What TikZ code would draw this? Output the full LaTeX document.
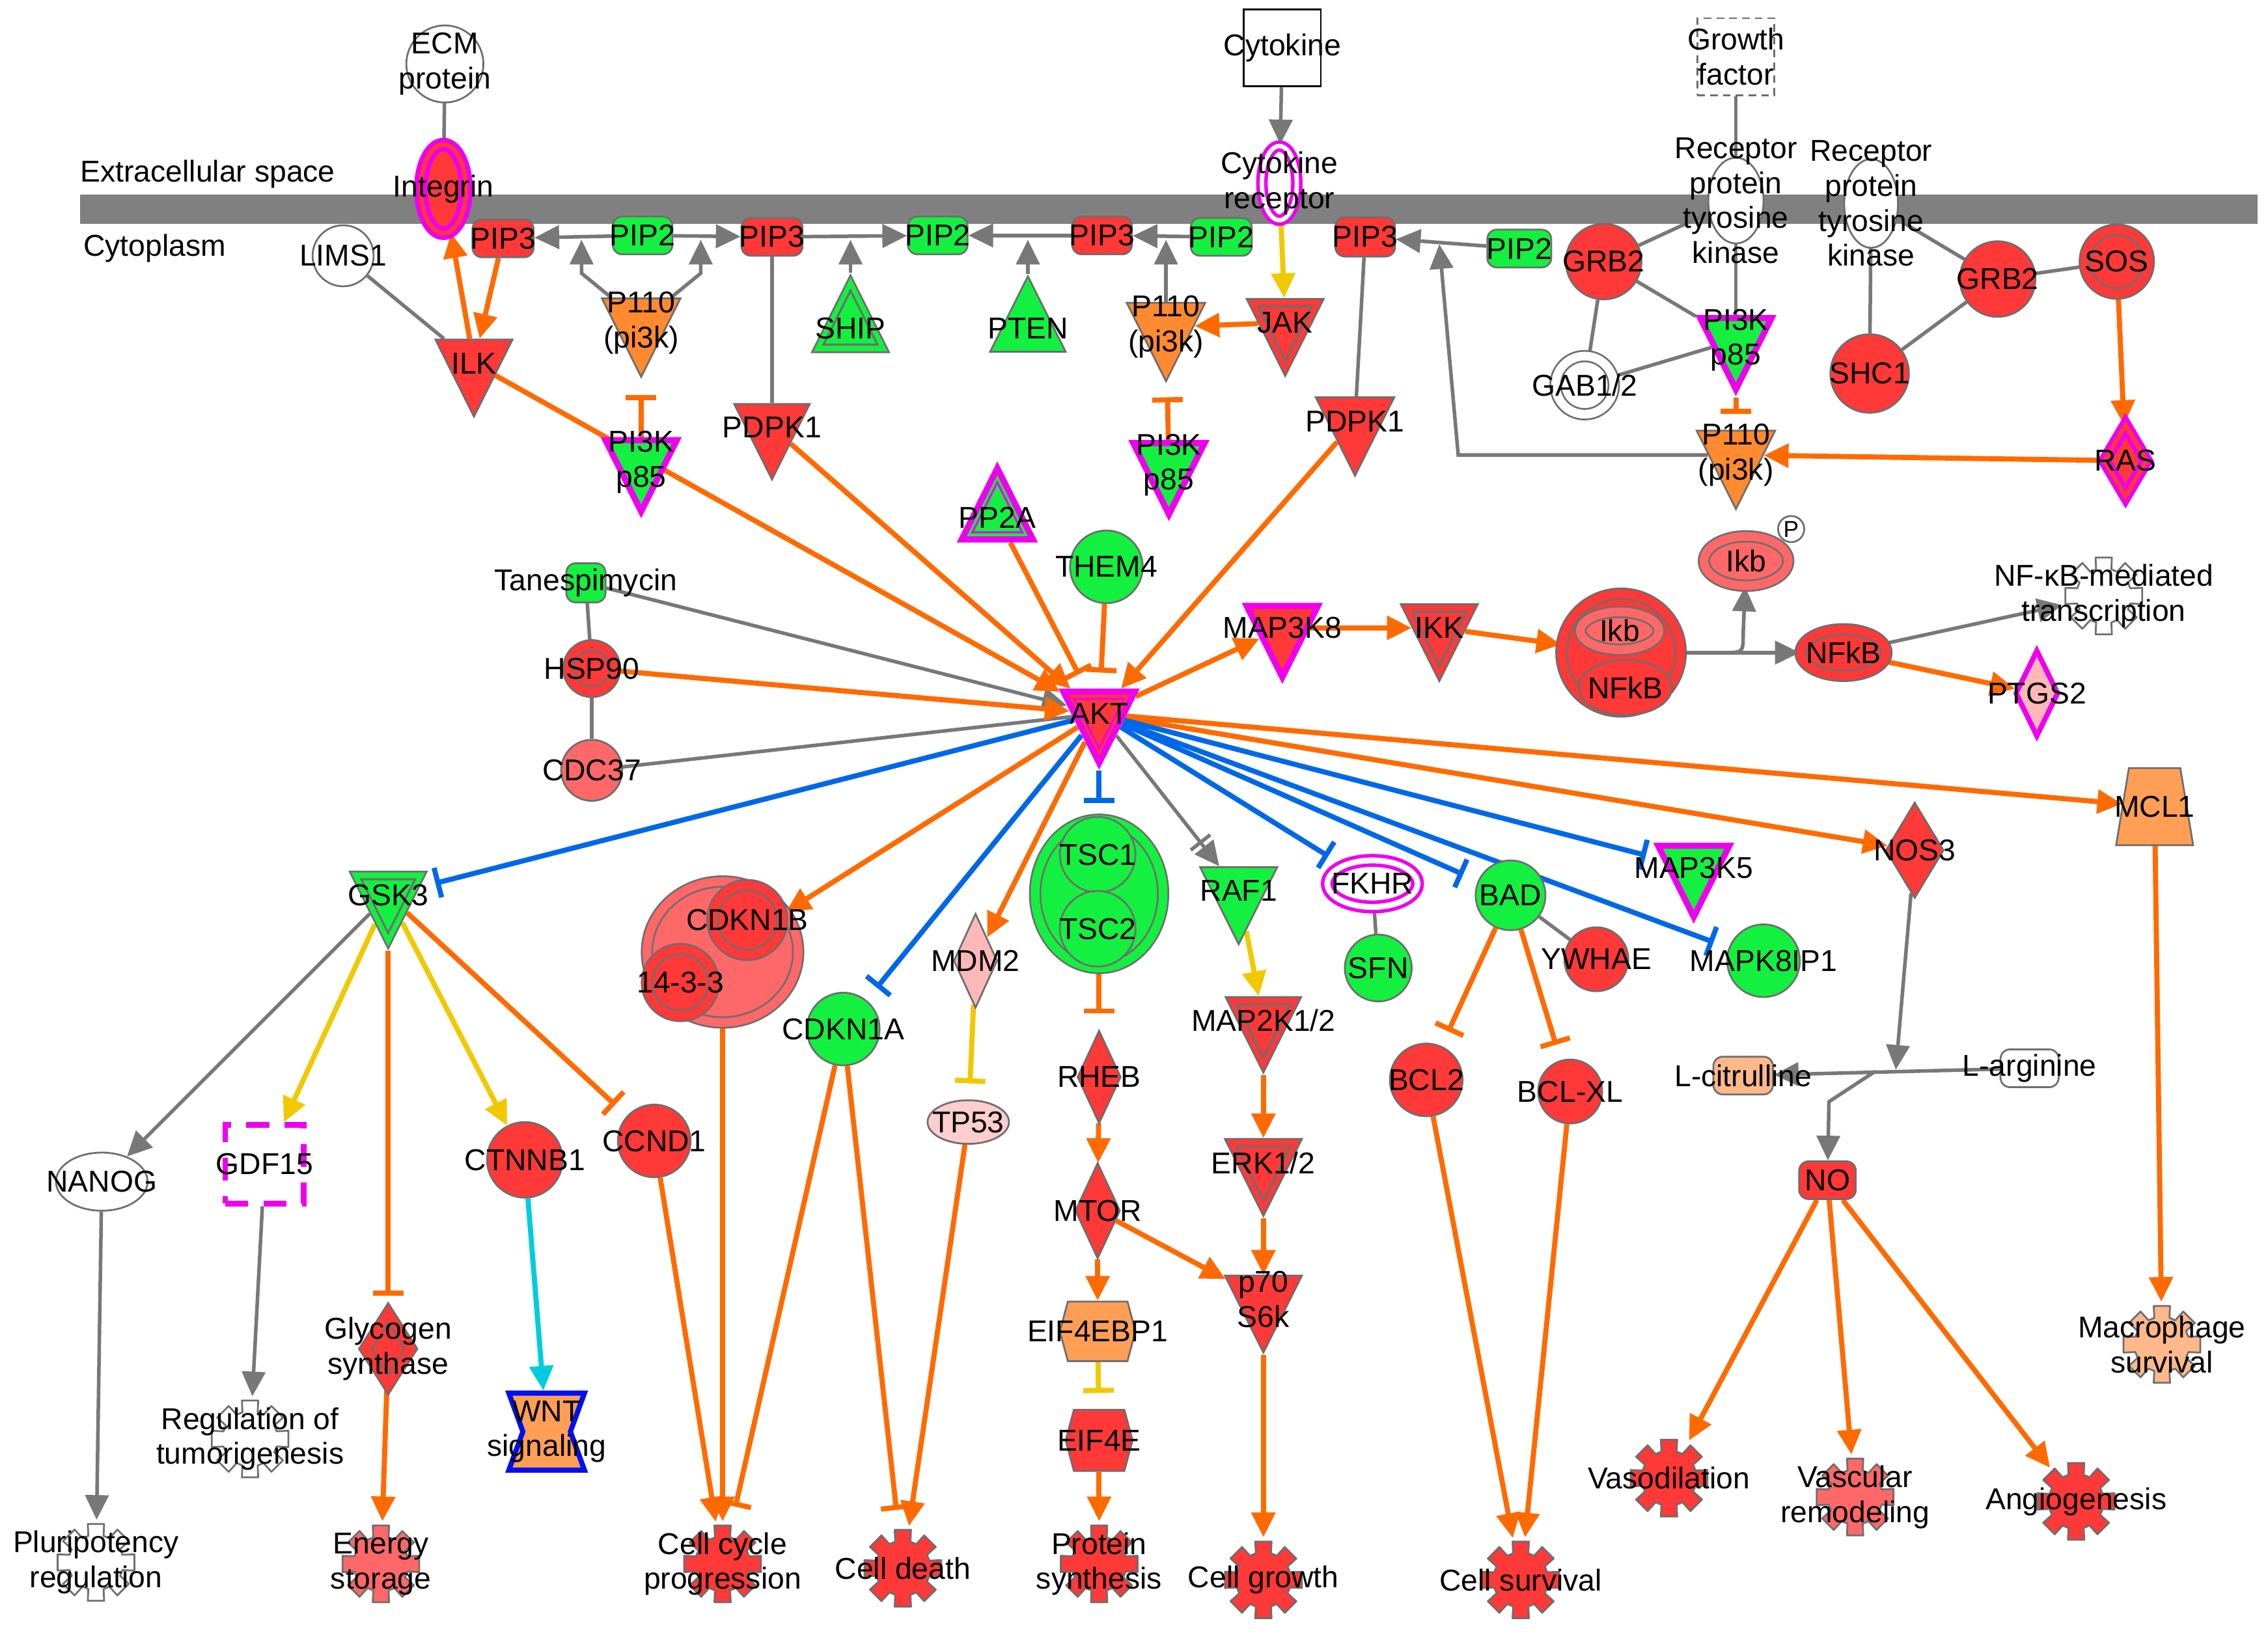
\documentclass[tikz,border=0pt]{standalone}
\usepackage{fontspec}
\setmainfont{Liberation Sans}
\usetikzlibrary{calc, arrows.meta, shapes.geometric, shapes.symbols}
\definecolor{ipared}{HTML}{FF3838}
\definecolor{ipalred}{HTML}{FF6868}
\definecolor{ipagreen}{HTML}{14F040}
\definecolor{ipaorange}{HTML}{FF8A30}
\definecolor{ipalorange}{HTML}{FF9F55}
\definecolor{ipapale}{HTML}{FFB88A}
\definecolor{ipapink}{HTML}{FFB8B8}
\definecolor{ipapinktwo}{HTML}{FFCDCD}
\definecolor{ipamag}{HTML}{EE00EE}
\definecolor{nodegray}{HTML}{6E6E6E}
\definecolor{edgegray}{HTML}{787878}
\definecolor{edgeorange}{HTML}{FF6A00}
\definecolor{edgeyellow}{HTML}{F2C800}
\definecolor{edgeblue}{HTML}{0068E8}
\definecolor{edgecyan}{HTML}{00CCDD}
\definecolor{wntblue}{HTML}{0010EE}
\definecolor{membrane}{HTML}{808080}
\newcommand{\un}{0.02cm}
\newcommand{\gearpath}{(-16:19) \foreach \a in {0,45,...,315}{ -- (\a-16:19) -- (\a-12:27) -- (\a+12:27) -- (\a+16:19)} -- cycle}
\pgfdeclarelayer{back}
\pgfdeclarelayer{edges}
\pgfsetlayers{back,edges,main}
\tikzset{
  every label/.style={align=center, inner sep=0pt},
  mol/.style={draw=nodegray, line width=0.7pt, inner sep=0pt},
  circ/.style={mol, circle, minimum size=#1*\un},
  oval/.style 2 args={mol, ellipse, minimum width=#1*\un, minimum height=#2*\un},
  box/.style 2 args={mol, rectangle, rounded corners=0.13cm, minimum width=#1*\un, minimum height=#2*\un},
  sqbox/.style={mol, rectangle, minimum size=#1*\un},
  dia/.style 2 args={mol, diamond, minimum width=#1*\un, minimum height=#2*\un},
  tri/.style={mol, isosceles triangle, isosceles triangle stretches=true, shape border rotate=270, minimum width=#1*\un, minimum height=#1*\un},
  tri/.default=53,
  triup/.style={tri=#1, shape border rotate=90},
  triup/.default=53,
  dbl/.style={double=#1, double distance=0.12cm},
  magborder/.style={draw=ipamag, line width=2.4pt},
  innerdown/.style={path picture={
      \coordinate (g) at ($(path picture bounding box.north)!0.3333!(path picture bounding box.south)$);
      \draw[#1, line width=0.8pt] ($(path picture bounding box.north west)!0.3!(g)$) -- ($(path picture bounding box.north east)!0.3!(g)$) -- ($(path picture bounding box.south)!0.3!(g)$) -- cycle;}},
  innerdown/.default=nodegray,
  innerup/.style={path picture={
      \coordinate (g) at ($(path picture bounding box.south)!0.3333!(path picture bounding box.north)$);
      \draw[#1, line width=0.8pt] ($(path picture bounding box.south west)!0.3!(g)$) -- ($(path picture bounding box.south east)!0.3!(g)$) -- ($(path picture bounding box.north)!0.3!(g)$) -- cycle;}},
  innerup/.default=nodegray,
  fnc/.style={circle, inner sep=0pt, minimum size=58*\un, path picture={
      \filldraw[fill=#1, draw=nodegray, line width=0.7pt, line join=round, shift={(path picture bounding box.center)}] \gearpath;}},
  act/.style={draw=#1, line width=2pt, -{Triangle[length=0.34cm, width=0.32cm]}},
  act/.default=edgeorange,
  inh/.style={draw=#1, line width=2pt, -{Bar[width=0.42cm]}, shorten >=0.22cm},
  inh/.default=edgeorange,
  gact/.style={draw=edgegray, line width=1.4pt, -{Triangle[length=0.34cm, width=0.32cm]}},
  gbar/.style={draw=edgegray, line width=1.4pt, -{Bar[width=0.34cm, sep=1.5pt] Triangle[length=0.34cm, width=0.32cm]}},
  assoc/.style={draw=edgegray, line width=1.4pt}
}
\begin{document}
\begin{tikzpicture}[x=\un, y=-\un, font=\fontsize{11.8}{13.7}\selectfont]
\useasboundingbox (0,0) rectangle (1560,1128);

% membrane
\begin{pgfonlayer}{back}
  \fill[membrane] (55,134) rectangle (1553,154);
\end{pgfonlayer}
\node[inner sep=0pt, anchor=west] (ecs) at (55,120) {Extracellular space};
\node[inner sep=0pt, anchor=west] (cyt) at (57,171) {Cytoplasm};

% ligands and receptors
\node[circ=53, fill=white, label={center:ECM\\protein}] (ecm) at (306,44) {};
\node[sqbox=53, draw=black, fill=white, label=center:Cytokine] (cytokine) at (882,33) {};
\node[sqbox=53, dash pattern=on 3pt off 2pt, fill=white, label={center:Growth\\factor}] (growth) at (1194,39) {};
\node[oval={31}{61}, fill=ipared, draw=ipamag, line width=1.8pt, double=ipared, double distance=0.06cm, label=center:Integrin] (integrin) at (305,130) {};
\node[oval={24}{51}, fill=white, draw=ipamag, line width=1.4pt, double=white, double distance=0.06cm, label={center:Cytokine\\receptor}] (cytrec) at (880,126) {};
\node[oval={38}{59}, fill=white, label={center:Receptor\\protein\\tyrosine\\kinase}] (rptka) at (1194,138) {};
\node[oval={37}{61}, fill=white, label={center:Receptor\\protein\\tyrosine\\kinase}] (rptkb) at (1287,140) {};

% small molecules and boxes
\foreach \nm/\px/\py/\w/\h/\col/\txt in {
    pip3a/346/164/42/26/ipared/PIP3, pip2a/442/162/41/26/ipagreen/PIP2,
    pip3b/531/163/42/26/ipared/PIP3, pip2b/645/162/41/26/ipagreen/PIP2,
    pip3c/758/162/41/26/ipared/PIP3, pip2c/840/163/42/26/ipagreen/PIP2,
    pip3d/939/163/41/27/ipared/PIP3, pip2d/1045/171/44/26/ipagreen/PIP2,
    tane/403/401/27/27/ipagreen/Tanespimycin, lcit/1199/740/41/26/ipapale/L-citrulline,
    larg/1396/735/40/26/white/L-arginine, no/1257/812/39/26/ipared/NO}
  \node[box={\w}{\h}, fill=\col, label=center:\txt] (\nm) at (\px,\py) {};

% plain circles
\foreach \nm/\px/\py/\d/\col/\txt in {
    lims1/236/176/42/white/LIMS1, grb2a/1103/180/52/ipared/GRB2,
    grb2b/1374/192/52/ipared/GRB2, shc1/1286/257/54/ipared/SHC1,
    them4/761/390/50/ipagreen/THEM4, cdc37/407/530/42/ipalred/CDC37,
    sfn/948/666/46/ipagreen/SFN, bad/1039/616/48/ipagreen/BAD,
    mapk8ip1/1213/661/50/ipagreen/MAPK8IP1, ywhae/1098/660/44/ipared/YWHAE,
    cdkn1a/580/708/50/ipagreen/CDKN1A, bcl2/981/743/50/ipared/BCL2,
    bclxl/1080/751/44/ipared/BCL-XL, ctnnb1/361/798/52/ipared/CTNNB1,
    ccnd1/450/785/50/ipared/CCND1}
  \node[circ=\d, fill=\col, label=center:\txt] (\nm) at (\px,\py) {};
\node[circ=32, fill=ipared, dbl=ipared, label=center:HSP90] (hsp90) at (407,460) {};
\node[circ=44, fill=ipared, dbl=ipared, label=center:SOS] (sos) at (1456,180) {};
\node[circ=40, fill=white, dbl=white, label=center:GAB1/2] (gab) at (1090,265) {};
\node[circ=18, fill=white, label={[font=\fontsize{9}{10}\selectfont]center:P}] (pcirc) at (1232,364) {};

% ovals and complexes
\node[oval={63}{40}, fill=white, label=center:NANOG] (nanog) at (70,813) {};
\node[oval={56}{30}, fill=ipapinktwo, label=center:TP53] (tp53) at (666,772) {};
\node[oval={62}{32}, fill=white, draw=ipamag, line width=1.4pt, double=white, double distance=0.08cm, label=center:FKHR] (fkhr) at (944,608) {};
\node[oval={58}{34}, fill=ipalred, dbl=ipalred, label=center:Ikb] (ikb) at (1201,386) {};
\node[oval={59}{32}, fill=ipared, dbl=ipared, label=center:NFkB] (nfkb) at (1268,449) {};
\node[oval={82}{81}, fill=ipared, dbl=ipared] (cplx) at (1115,449) {};
\node[oval={54}{26}, fill=ipalred, dbl=ipalred, label=center:Ikb] (ikbin) at (1114,434) {};
\node[oval={64}{38}, fill=ipared, label=center:NFkB] (nfkbin) at (1118,473) {};
\node[oval={88}{102}, fill=ipagreen, dbl=ipagreen] (tsc) at (756,615) {};
\node[circ=52, fill=ipagreen, label=center:TSC1] (tsc1) at (755,588) {};
\node[circ=52, fill=ipagreen, label=center:TSC2] (tsc2) at (755,639) {};
\node[oval={104}{97}, fill=ipalred, dbl=ipalred] (cdkn1bc) at (497,655) {};
\node[circ=48, fill=ipared, dbl=ipared, label=center:CDKN1B] (cdkn1b) at (514,633) {};
\node[circ=46, fill=ipared, dbl=ipared, label=center:14-3-3] (c1433) at (468,676) {};

% kinases (triangles)
\foreach \nm/\px/\py/\s/\col/\txt in {
    ilk/326/250/53/ipared/ILK, pdpk1a/531/294/52/ipared/PDPK1,
    pdpk1b/932/290/54/ipared/PDPK1, raf1/852/613/53/ipagreen/RAF1}
  \node[tri=\s, fill=\col, label=center:\txt] (\nm) at (\px,\py) {};
\foreach \nm/\px/\py/\col/\txt in {jak/884/222/ipared/JAK, ikk/990/432/ipared/IKK, gsk3/267/616/ipagreen/GSK3}
  \node[tri=53, fill=\col, innerdown, label=center:\txt] (\nm) at (\px,\py) {};
\node[tri=52, fill=ipared, innerdown, label=center:MAP2K1/2] (map2k) at (869,702) {};
\node[tri=53, fill=ipared, innerdown, label=center:ERK1/2] (erk) at (869,800) {};
\node[tri=53, fill=ipared, label={center:p70\\S6k}] (p70) at (869,894) {};
\foreach \nm/\px/\py in {p110a/441/222, p110b/802/225, p110c/1194/313}
  \node[tri=54, fill=ipaorange, label={center:P110\\(pi3k)}] (\nm) at (\px,\py) {};
\foreach \nm/\px/\py in {pi3ka/441/318, pi3kb/804/320, pi3kc/1194/234}
  \node[tri=49, fill=ipagreen, magborder, label={center:PI3K\\p85}] (\nm) at (\px,\py) {};
\node[tri=49, fill=ipared, magborder, innerdown=ipamag, label=center:AKT] (akt) at (756,491) {};
\node[tri=49, fill=ipared, magborder, label=center:MAP3K8] (map3k8) at (882,432) {};
\node[tri=49, fill=ipagreen, magborder, label=center:MAP3K5] (map3k5) at (1165,597) {};
\node[triup=53, fill=ipagreen, innerup, label=center:SHIP] (ship) at (585,226) {};
\node[triup=52, fill=ipagreen, label=center:PTEN] (pten) at (707,226) {};
\node[triup=49, fill=ipagreen, magborder, innerup=ipamag, label=center:PP2A] (pp2a) at (686,356) {};

% enzymes and others
\node[dia={30}{50}, fill=ipared, draw=ipamag, line width=1.6pt, double=ipared, double distance=0.06cm, label=center:RAS] (ras) at (1462,317) {};
\node[dia={30}{60}, fill=ipapink, draw=ipamag, line width=2pt, label=center:PTGS2] (ptgs2) at (1401,477) {};
\foreach \nm/\px/\py/\w/\h/\col/\txt in {
    nos3/1317/585/40/66/ipared/NOS3, mdm2/671/661/30/65/ipapink/MDM2,
    rheb/756/741/30/64/ipared/RHEB, mtor/755/833/31/66/ipared/MTOR}
  \node[dia={\w}{\h}, fill=\col, label=center:\txt] (\nm) at (\px,\py) {};
\node[dia={32}{50}, fill=ipared, dbl=ipared, label={center:Glycogen\\synthase}] (glyco) at (267,928) {};
\node[mol, inner sep=2pt, trapezium, trapezium stretches=true, trapezium left angle=76, trapezium right angle=76, minimum width=53*\un, minimum height=53*\un, fill=ipalorange, label=center:MCL1] (mcl1) at (1482,555) {};
\node[mol, inner sep=1pt, signal, signal to=west and east, signal pointer angle=150, minimum width=52*\un, minimum height=41*\un, fill=ipalorange, label=center:EIF4EBP1] (eif4ebp1) at (755,916) {};
\node[mol, inner sep=1pt, signal, signal to=west and east, signal pointer angle=150, minimum width=46*\un, minimum height=42*\un, fill=ipared, label=center:EIF4E] (eif4e) at (756,991) {};
\node[mol, inner sep=1pt, signal, signal to=nowhere, signal from=west and east, signal pointer angle=140, minimum width=52*\un, minimum height=53*\un, fill=ipalorange, draw=wntblue, line width=2pt, label={center:WNT\\signaling}] (wnt) at (376,985) {};
\node[sqbox=54, fill=white, draw=ipamag, line width=2.2pt, dash pattern=on 9pt off 6pt, label=center:GDF15] (gdf15) at (182,801) {};

% functions
\node[fnc=ipared, label=center:Cell death] (celldeath) at (621,1079) {};
\node[fnc=ipared, label=center:Cell growth] (cellgrowth) at (869,1087) {};
\node[fnc=ipared, label=center:Cell survival] (cellsurv) at (1046,1087) {};
\node[fnc=ipared, label=center:Vasodilation] (vaso) at (1148,1017) {};
\node[fnc=ipared, label=center:Angiogenesis] (angio) at (1428,1033) {};
\node[fnc=white, label={center:NF-κB-mediated\\transcription}] (nftr) at (1447,410) {};
\node[fnc=ipared, label={center:Cell cycle\\progression}] (cellcycle) at (497,1076) {};
\node[fnc=ipared, label={center:Protein\\synthesis}] (protsyn) at (756,1076) {};
\node[fnc=ipalred, label={center:Energy\\storage}] (energy) at (262,1076) {};
\node[fnc=ipalred, label={center:Vascular\\remodeling}] (vascrem) at (1276,1030) {};
\node[fnc=ipapale, label={center:Macrophage\\survival}] (macro) at (1487,925) {};
\node[fnc=white, label={center:Pluripotency\\regulation}] (plurireg) at (66,1075) {};
\node[fnc=white, label={center:Regulation of\\tumorigenesis}] (tumreg) at (172,990) {};

% free ends of connectors
\coordinate (j1) at (400,165);
\coordinate (j2) at (482,165);
\coordinate (j3) at (585,165);
\coordinate (j4) at (707,165);
\coordinate (j5) at (802,165);
\coordinate (j6) at (990,168);
\coordinate (j7) at (1304,736);
\coordinate (j8) at (1290,737);

\begin{pgfonlayer}{edges}
% associations
\foreach \a/\b in {ecm/integrin, lims1/ilk, pip3b/pdpk1a, pip3d/pdpk1b, growth/rptka,
    grb2a/rptka, grb2a/pi3kc, grb2a/gab, gab/pi3kc, rptka/pi3kc, grb2b/sos, grb2b/rptkb,
    grb2b/shc1, rptkb/shc1, tane/hsp90, hsp90/cdc37, cdc37/akt, fkhr/sfn, bad/ywhae}
  \draw[assoc] (\a) -- (\b);
% gray arrows
\foreach \a/\b in {cytokine/cytrec, pip2a/pip3a, pip2a/pip3b, pip3b/pip2b, pip3c/pip2b,
    pip2c/pip3c, pip2d/pip3d, tane/akt, gsk3/nanog, nanog/plurireg, gdf15/tumreg,
    cplx/nfkb, nfkb/nftr, larg/lcit, ship/j3, pten/j4, p110b/j5, nos3/j7}
  \draw[gact] (\a) -- (\b);
\draw[gact] (p110a.140) -- (400,188) -- (j1);
\draw[gact] (p110a.40) -- (482,188) -- (j2);
\draw[gact] (p110c.180) -- (1003,313) -- (j6);
\draw[gact] (j8) -- (1258,758) -- (no);
\draw[gact] (cplx.east) -- (1186,449) .. controls (1199,449) .. (1199,436) -- (ikb);
\draw[gbar] (akt) -- (raf1);
% activation
\foreach \a/\b in {ilk/integrin, pip3a/ilk, jak/p110b, ras/p110c, sos/ras, ilk/akt,
    pdpk1a/akt, pdpk1b/akt, hsp90/akt, akt/map3k8, map3k8/ikk, ikk/cplx, nfkb/ptgs2,
    akt/mcl1, akt/nos3, akt/cdkn1bc, akt/mdm2, mcl1/macro, no/vaso, no/vascrem, no/angio,
    bcl2/cellsurv, bclxl/cellsurv, cdkn1bc/cellcycle, ccnd1/cellcycle, tp53/celldeath,
    rheb/mtor, mtor/eif4ebp1, mtor/p70, eif4e/protsyn, map2k/erk, erk/p70,
    p70/cellgrowth, glyco/energy}
  \draw[act] (\a) -- (\b);
\foreach \a/\b in {cytrec/jak, raf1/map2k, gsk3/gdf15, gsk3/ctnnb1}
  \draw[act=edgeyellow] (\a) -- (\b);
\draw[act=edgecyan] (ctnnb1) -- (wnt);
% inhibition
\foreach \a/\b in {pi3ka/p110a, pi3kb/p110b, pi3kc/p110c, pp2a/akt, them4/akt, tsc/rheb,
    bad/bcl2, bad/bclxl, gsk3/glyco, gsk3/ccnd1, cdkn1a/cellcycle, cdkn1a/celldeath}
  \draw[inh] (\a) -- (\b);
\foreach \a/\b in {mdm2/tp53, eif4ebp1/eif4e}
  \draw[inh=edgeyellow] (\a) -- (\b);
\foreach \b in {gsk3, cdkn1a, tsc, fkhr, bad, map3k5, mapk8ip1}
  \draw[inh=edgeblue] (akt) -- (\b);
\end{pgfonlayer}
\end{tikzpicture}
\end{document}
